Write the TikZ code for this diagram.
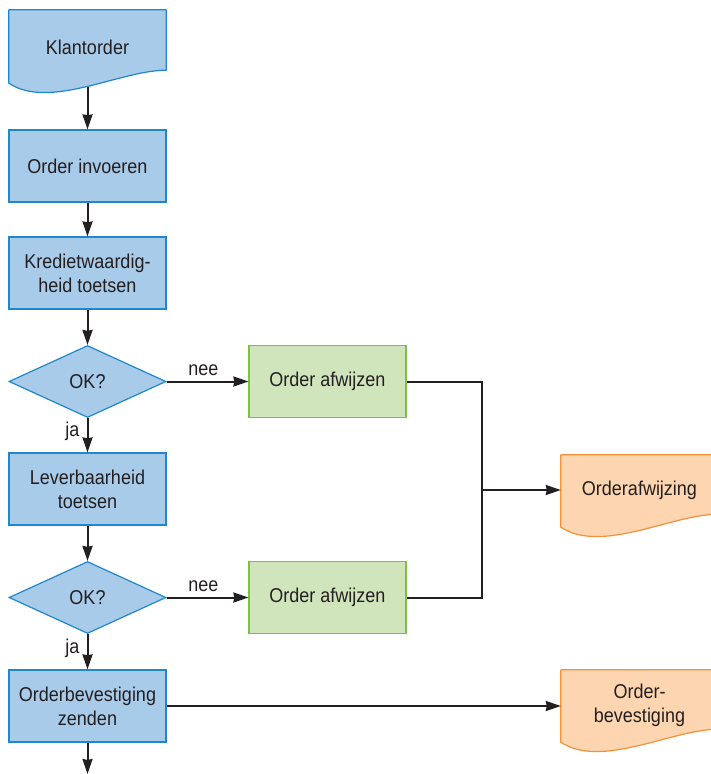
\documentclass[tikz,border=0pt]{standalone}
\usepackage{fontspec}
\setmainfont{Liberation Sans}[FakeStretch=0.9]
\usetikzlibrary{shapes.geometric,arrows.meta,calc}
\definecolor{bluefill}{HTML}{A9CBEA}
\definecolor{blueline}{HTML}{1E88C9}
\definecolor{greenfill}{HTML}{D1E5BD}
\definecolor{greenline}{HTML}{7BC143}
\definecolor{orangefill}{HTML}{FDD6B1}
\definecolor{orangeline}{HTML}{F7903A}
\definecolor{ink}{HTML}{231F20}
\tikzset{
  txt/.style={font=\fontsize{20}{24}\selectfont, text=ink, align=center},
  bluebox/.style={txt, rectangle, draw=blueline, fill=bluefill, line width=1.2pt,
    minimum width=157pt, minimum height=72pt, inner sep=0pt},
  greenbox/.style={txt, rectangle, draw=greenline, fill=greenfill, line width=1.2pt,
    minimum width=157pt, minimum height=72pt, inner sep=0pt},
  okdiamond/.style={txt, diamond, aspect=2.18, draw=blueline, fill=bluefill, line width=1.2pt,
    minimum width=157pt, minimum height=72pt, inner sep=0pt},
  docnode/.style={txt, rectangle, minimum width=157pt, minimum height=72pt, inner sep=0pt},
  conn/.style={draw=ink, line width=2pt, -{Stealth[length=15pt,width=10pt,inset=1pt]}},
  plainconn/.style={draw=ink, line width=2pt},
  lbl/.style={font=\fontsize{20}{24}\selectfont, text=ink, inner sep=0pt},
}
\newcommand\docpath[1]{(#1.north west) -- (#1.north east) -- ($(#1.south east)+(0,-13)$)
  .. controls ($(#1.south east)+(-46,-13)$) and ($(#1.south west)+(41,27)$) .. (#1.south west) -- cycle}
\begin{document}
\begin{tikzpicture}[x=1pt,y=-1pt]
\useasboundingbox (0,0) rectangle (711,774);
% document shapes
\node[docnode, minimum height=73pt] (klant) at (87.5,46.5) {};
\fill[bluefill] \docpath{klant};
\draw[blueline, line width=1.2pt, line join=round] \docpath{klant};
\node[txt] at (87.5,47) {Klantorder};

\node[docnode] (afwdoc) at (639.5,491) {};
\fill[orangefill] \docpath{afwdoc};
\draw[orangeline, line width=1.2pt, line join=round] \docpath{afwdoc};
\node[txt] at (639.5,490) {Orderafwijzing};

\node[docnode] (bevdoc) at (639.5,706) {};
\fill[orangefill] \docpath{bevdoc};
\draw[orangeline, line width=1.2pt, line join=round] \docpath{bevdoc};
\node[txt] at (639.5,705) {Order-\\bevestiging};

% process boxes
\node[bluebox] (invoeren) at (87.5,166) {Order invoeren};
\node[bluebox] (krediet) at (87.5,273) {Kredietwaardig-\\heid toetsen};
\node[okdiamond] (ok1) at (87.5,381.5) {OK?};
\node[greenbox] (afw1) at (327.5,381.5) {Order afwijzen};
\node[bluebox] (lever) at (87.5,489) {Leverbaarheid\\toetsen};
\node[okdiamond] (ok2) at (87.5,597.5) {OK?};
\node[greenbox] (afw2) at (327.5,597.5) {Order afwijzen};
\node[bluebox] (bevz) at (87.5,706) {Orderbevestiging\\zenden};

\coordinate (j1) at (482,381.5);
\coordinate (j2) at (482,597.5);
\coordinate (jm) at (482,490);
\coordinate (endc) at (87.5,774);

% connectors
\draw[conn] ($(klant.south)+(0,4)$) -- (invoeren.north);
\draw[conn] (invoeren.south) -- (krediet.north);
\draw[conn] (krediet.south) -- (ok1.north);
\draw[conn] (ok1.east) -- node[lbl, above=5pt, pos=0.45] {nee} (afw1.west);
\draw[conn] (ok1.south) -- node[lbl, left=7pt, pos=0.4] {ja} (lever.north);
\draw[conn] (lever.south) -- (ok2.north);
\draw[conn] (ok2.east) -- node[lbl, above=5pt, pos=0.45] {nee} (afw2.west);
\draw[conn] (ok2.south) -- node[lbl, left=7pt, pos=0.4] {ja} (bevz.north);
\draw[conn] (bevz.south) -- (endc);
\draw[plainconn, line join=miter] (afw1.east) -- (j1) -- (j2) -- (afw2.east);
\draw[conn] (jm) -- (afwdoc.west |- jm);
\draw[conn] (bevz.east) -- (bevdoc.west);
\end{tikzpicture}
\end{document}
